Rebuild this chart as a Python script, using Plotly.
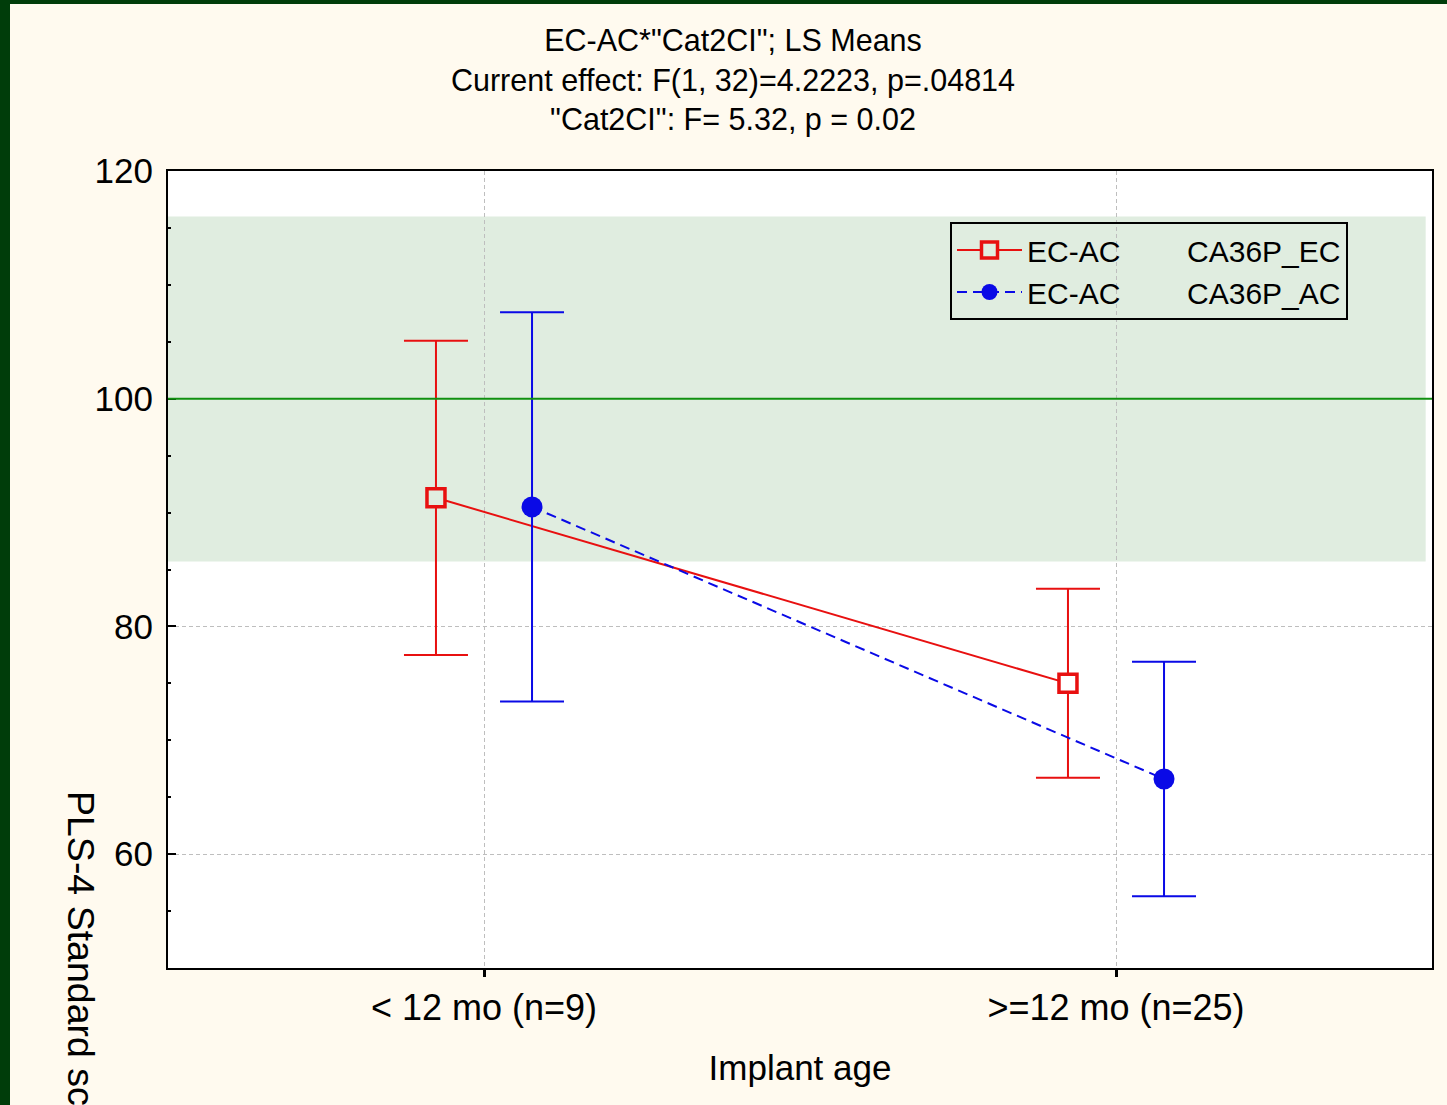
import plotly.graph_objects as go

# ---- data ----
categories = ["< 12 mo (n=9)", ">=12 mo (n=25)"]
ec_means = [91.3, 75.0]
ec_ci = [13.8, 8.3]
ac_means = [90.5, 66.6]
ac_ci = [17.1, 10.3]
norm_mean = 100
norm_low = 85.7
norm_high = 116.0
y_range = [50, 120]
title_lines = ['EC-AC*"Cat2CI"; LS Means',
               'Current effect: F(1, 32)=4.2223, p=.04814',
               '"Cat2CI": F= 5.32, p = 0.02']

FONT = "Liberation Sans, Arial, sans-serif"
RED = "#E81010"
BLUE = "#0A0AE6"
CREAM = "#FFFAEF"
BAND = "#E0EDE0"
W, H = 1447, 1105
ML, MR, MT, MB = 168, 15, 171, 137
PW, PH = W - ML - MR, H - MT - MB

offset = 0.076
idx = list(range(len(categories)))
x_ec = [i - offset for i in idx]
x_ac = [i + offset for i in idx]

nb = "\u00a0"
fig = go.Figure()
fig.add_trace(go.Scatter(
    x=x_ec, y=ec_means, mode="lines+markers",
    name="EC-AC" + nb * 8 + "CA36P_EC",
    line=dict(color=RED, width=2),
    marker=dict(symbol="square", size=18, color=[BAND, "white"],
                line=dict(color=RED, width=3.5)),
    error_y=dict(type="data", array=ec_ci, color=RED, thickness=2, width=32),
))
fig.add_trace(go.Scatter(
    x=x_ac, y=ac_means, mode="lines+markers",
    name="EC-AC" + nb * 8 + "CA36P_AC",
    line=dict(color=BLUE, width=2, dash="10px,6px"),
    marker=dict(symbol="circle", size=21, color=BLUE, line=dict(width=0)),
    error_y=dict(type="data", array=ac_ci, color=BLUE, thickness=2, width=32),
))

shapes = [
    # normative band
    dict(type="rect", xref="x domain", yref="y", x0=0, x1=0.995,
         y0=norm_low, y1=norm_high, fillcolor=BAND, line=dict(width=0), layer="below"),
    dict(type="line", xref="x domain", yref="y", x0=0, x1=1,
         y0=norm_mean, y1=norm_mean, line=dict(color="#109010", width=2), layer="above"),
    # dark green page border (left and top)
    dict(type="rect", xref="paper", yref="paper",
         x0=-ML / PW - 0.01, x1=(10 - ML) / PW, y0=-MB / PH - 0.01, y1=(H - MB) / PH + 0.01,
         fillcolor="#003D0A", line=dict(width=0), layer="above"),
    dict(type="rect", xref="paper", yref="paper",
         x0=-ML / PW - 0.01, x1=1 + MR / PW + 0.01, y0=(H - MB - 4) / PH, y1=(H - MB) / PH + 0.01,
         fillcolor="#003D0A", line=dict(width=0), layer="above"),
]

fig.update_layout(
    width=W, height=H, autosize=False,
    margin=dict(l=ML, r=MR, t=MT, b=MB, pad=0),
    paper_bgcolor=CREAM, plot_bgcolor="white",
    font=dict(family=FONT, color="black", size=35),
    title=dict(text="<br>".join(title_lines), x=733 / W, xanchor="center",
               xref="container",
               y=1 - 51 / H, yanchor="top", yref="container",
               font=dict(family=FONT, size=30.5, color="black")),
    showlegend=True,
    legend=dict(x=(950 - ML) / PW, y=(H - MB - 222) / PH, xanchor="left", yanchor="top",
                bgcolor="rgba(0,0,0,0)", bordercolor="black", borderwidth=2,
                font=dict(family=FONT, size=30, color="black"),
                itemwidth=65, tracegroupgap=0),
    shapes=shapes,
    xaxis=dict(range=[-0.5, 1.5], tickmode="array", tickvals=idx, ticktext=categories,
               showline=True, linecolor="black", linewidth=2, mirror=True,
               ticks="outside", ticklen=7, tickwidth=3, tickcolor="black",
               showgrid=True, gridcolor="#BEBEBE", gridwidth=1, griddash="4px,3px",
               zeroline=False, tickfont=dict(size=36),
               title=dict(text="Implant age", font=dict(size=35), standoff=28)),
    yaxis=dict(range=y_range, tickmode="linear", tick0=0, dtick=20,
               showline=True, linecolor="black", linewidth=2, mirror=True,
               ticks="inside", ticklen=8, tickwidth=2, tickcolor="black",
               minor=dict(dtick=5, tick0=0, ticks="inside", ticklen=3, tickwidth=2,
                          tickcolor="black", showgrid=False),
               showgrid=True, gridcolor="#BEBEBE", gridwidth=1, griddash="4px,3px",
               zeroline=False, tickfont=dict(size=35), ticklabelstandoff=6),
    yaxis2=dict(range=y_range, overlaying="y", side="right", anchor="x",
                tickmode="linear", tick0=0, dtick=10, ticks="inside", ticklen=7,
                tickwidth=2, tickcolor="black", showticklabels=False,
                showgrid=False, showline=False, zeroline=False),
    annotations=[dict(text="PLS-4 Standard scores", textangle=90, showarrow=False,
                      xref="paper", yref="paper", x=(81 - ML) / PW, y=(H - MB - 985) / PH,
                      xanchor="center", yanchor="middle",
                      font=dict(family=FONT, size=37.5, color="black"))],
)

fig.write_html("out.html", config={"displayModeBar": False},
               post_script="document.body.style.margin='0';document.body.style.overflow='hidden';")
